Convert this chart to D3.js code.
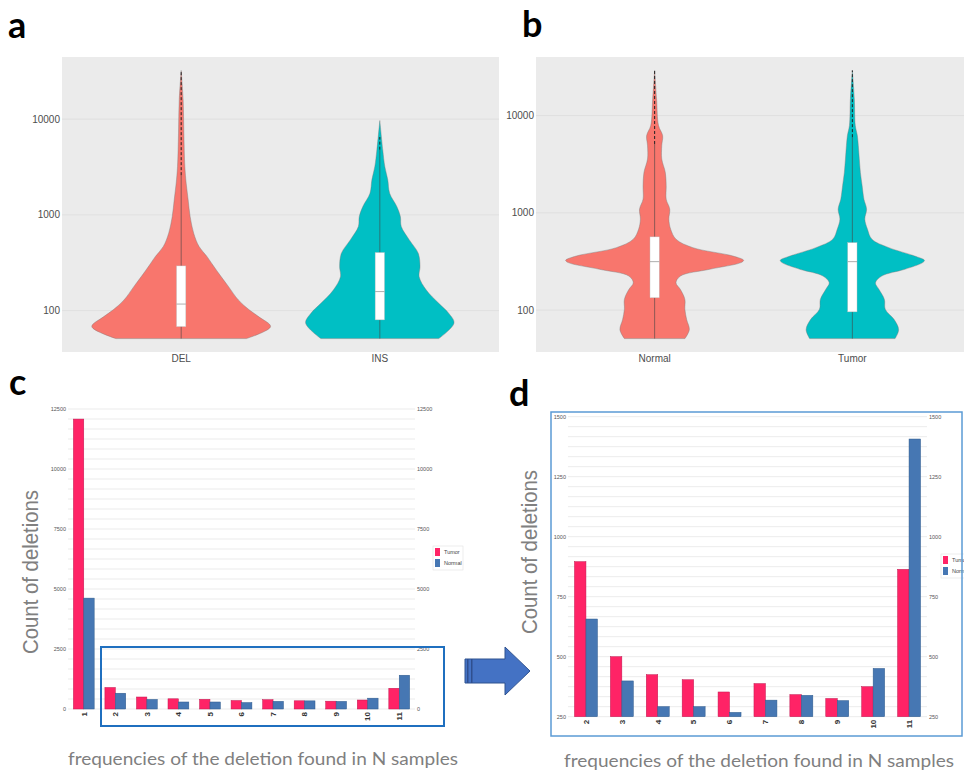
<!DOCTYPE html>
<html>
<head>
<meta charset="utf-8">
<script src="https://cdn.jsdelivr.net/npm/d3@7"></script>
<style>
  body { margin: 0; background: #fff; }
  svg { display: block; }
</style>
</head>
<body>
<script>
var W = 964, H = 775;

// ---- violin panels (a, b): length in bp vs relative density ----
var catsA = ['DEL', 'INS'];
var catsB = ['Normal', 'Tumor'];
var logTicks = [100, 1000, 10000];

var delLen  = [51, 68, 86, 102, 129, 178, 245, 313, 366, 467, 643, 962, 1435, 2143, 3200, 7145, 15900, 32300];
var delDens = [0.73, 1.0, 0.87, 0.76, 0.64, 0.53, 0.42, 0.34, 0.29, 0.2, 0.14, 0.1, 0.078, 0.056, 0.041, 0.03, 0.022, 0];
var insLen  = [51, 74, 94, 119, 164, 226, 288, 397, 548, 755, 962, 1222, 1683, 2321, 3200, 4775, 9680];
var insDens = [0.66, 0.83, 0.77, 0.66, 0.52, 0.44, 0.45, 0.43, 0.33, 0.24, 0.23, 0.19, 0.11, 0.089, 0.056, 0.033, 0];

var svLen      = [51, 63, 80, 102, 129, 163, 191, 224, 263, 308, 325, 360, 439, 536, 679, 861, 1091, 1383, 1898, 2605, 3574, 4905, 6221, 7890, 14860, 29100];
var normalDens = [0.34, 0.39, 0.36, 0.34, 0.34, 0.29, 0.24, 0.29, 0.62, 0.97, 1.0, 0.88, 0.43, 0.24, 0.18, 0.16, 0.17, 0.13, 0.13, 0.12, 0.08, 0.08, 0.09, 0.044, 0.022, 0];
var tumorDens  = [0.48, 0.52, 0.47, 0.37, 0.36, 0.3, 0.26, 0.33, 0.59, 0.79, 0.81, 0.7, 0.41, 0.22, 0.17, 0.14, 0.16, 0.13, 0.11, 0.09, 0.078, 0.067, 0.056, 0.033, 0.022, 0];

// box stats: q1, median, q3, start of outlier run, top
var delBox    = [68, 117, 293, 2600, 32300];
var insBox    = [80, 158, 404, 4800, 6500];
var normalBox = [134, 315, 566, 5100, 29100];
var tumorBox  = [96, 315, 494, 6000, 29100];

// ---- bar panels (c, d) ----
var freqCats = ['1', '2', '3', '4', '5', '6', '7', '8', '9', '10', '11'];
var tumorCounts  = [12080, 896, 500, 425, 404, 353, 388, 342, 326, 375, 864];
var normalCounts = [4620, 657, 399, 292, 292, 268, 319, 339, 317, 451, 1407];
var series = ['Tumor', 'Normal'];
var cTicks = [0, 2500, 5000, 7500, 10000, 12500];
var dTicks = [250, 500, 750, 1000, 1250, 1500];

var red = '#F8766D', teal = '#00BFC4';
var pink = '#FF2366', blue = '#4677B3';
var barColor = { Tumor: pink, Normal: blue };

var svg = d3.select('body').append('svg')
    .attr('width', W)
    .attr('height', H)
    .style('font-family', 'Liberation Sans, Arial, sans-serif');

function panelLabel(txt, x, y) {
  svg.append('text').attr('x', x).attr('y', y)
    .attr('font-family', 'Lato, Open Sans, sans-serif')
    .attr('font-weight', 'bold').attr('font-size', 36)
    .text(txt);
}

// log y scale with ggplot's 5% expansion
function logScale(mins, maxs, top, bottom) {
  var lo = Math.log10(d3.min(mins)), hi = Math.log10(d3.max(maxs));
  var pad = (hi - lo) * 0.05;
  return d3.scaleLog().domain([Math.pow(10, lo - pad), Math.pow(10, hi + pad)]).range([bottom, top]);
}

function violinPanel(x0, x1, cats, lens, dens, boxes, colors) {
  var top = 57, bottom = 352;
  var y = logScale(lens.map(l => l[0]), lens.map(l => l[l.length - 1]), top, bottom);
  var x = d3.scalePoint().domain(cats).range([x0, x1]).padding(0.6);
  var wScale = d3.scaleLinear().domain([0, 1]).range([0, x.step() * 0.45]);

  var g = svg.append('g');
  g.append('rect').attr('x', x0).attr('y', top)
    .attr('width', x1 - x0).attr('height', bottom - top)
    .attr('fill', '#EBEBEB');

  g.selectAll('.grid').data(logTicks).enter()
    .append('line')
    .attr('x1', x0).attr('x2', x1)
    .attr('y1', d => y(d)).attr('y2', d => y(d))
    .attr('stroke', '#DCDCDC').attr('stroke-width', 0.8);

  g.selectAll('.ylab').data(logTicks).enter()
    .append('text')
    .attr('x', x0 - 2).attr('y', d => y(d))
    .attr('dy', '0.35em').attr('text-anchor', 'end')
    .attr('font-size', 10).attr('fill', '#4D4D4D')
    .text(d => d);

  g.selectAll('.xlab').data(cats).enter()
    .append('text')
    .attr('x', d => x(d)).attr('y', 362)
    .attr('text-anchor', 'middle')
    .attr('font-size', 10).attr('fill', '#4D4D4D')
    .text(d => d);

  cats.forEach(function(c, i) {
    var cx = x(c);
    var pts = lens[i].map((v, j) => [v, dens[i][j]]);
    var area = d3.area()
      .y(d => y(d[0]))
      .x0(d => cx - wScale(d[1]))
      .x1(d => cx + wScale(d[1]))
      .curve(d3.curveCatmullRom);
    g.append('path').datum(pts)
      .attr('d', area)
      .attr('fill', colors[i])
      .attr('stroke', '#777').attr('stroke-width', 0.4);

    var b = boxes[i];
    var bw = x.step() * 0.047;
    // whisker / outlier line
    g.append('line')
      .attr('x1', cx).attr('x2', cx)
      .attr('y1', y(lens[i][0])).attr('y2', y(b[3]))
      .attr('stroke', '#444').attr('stroke-width', 0.6);
    g.append('line')
      .attr('x1', cx).attr('x2', cx)
      .attr('y1', y(b[3])).attr('y2', y(b[4]))
      .attr('stroke', '#222').attr('stroke-width', 1)
      .attr('stroke-dasharray', '3,2');
    g.append('rect')
      .attr('x', cx - bw / 2).attr('width', bw)
      .attr('y', y(b[2])).attr('height', y(b[0]) - y(b[2]))
      .attr('fill', '#fff').attr('stroke', '#bbb').attr('stroke-width', 0.4);
    g.append('line')
      .attr('x1', cx - bw / 2).attr('x2', cx + bw / 2)
      .attr('y1', y(b[1])).attr('y2', y(b[1]))
      .attr('stroke', '#999').attr('stroke-width', 0.8);
  });
}

violinPanel(62, 499, catsA, [delLen, insLen], [delDens, insDens], [delBox, insBox], [red, teal]);
violinPanel(536, 971, catsB, [svLen, svLen], [normalDens, tumorDens], [normalBox, tumorBox], [red, teal]);

// ---- bar panels ----
function barPanel(opt) {
  var g = svg.append('g');
  var x = d3.scaleBand().domain(opt.cats).range([opt.x0, opt.x1])
    .paddingInner(opt.pad).paddingOuter(opt.pad / 2);
  var xs = d3.scaleBand().domain(series).range([0, x.bandwidth()]);
  var y = d3.scaleLinear().domain(opt.domain).range([opt.bottom, opt.top]);
  var major = opt.ticks[1] - opt.ticks[0];
  var grid = d3.range(opt.domain[0], opt.domain[1] + 1, major / 6);

  g.selectAll('.grid').data(grid).enter()
    .append('line')
    .attr('x1', opt.x0).attr('x2', opt.x1)
    .attr('y1', d => y(d)).attr('y2', d => y(d))
    .attr('stroke', '#E6E6E6').attr('stroke-width', 0.8);

  g.selectAll('.yl').data(opt.ticks).enter()
    .append('text')
    .attr('x', opt.x0 - 2).attr('y', d => y(d))
    .attr('dy', '0.35em').attr('text-anchor', 'end')
    .attr('font-size', 5.5).attr('fill', '#555')
    .text(d => d);
  g.selectAll('.yr').data(opt.ticks).enter()
    .append('text')
    .attr('x', opt.x1 + 2).attr('y', d => y(d))
    .attr('dy', '0.35em').attr('text-anchor', 'start')
    .attr('font-size', 5.5).attr('fill', '#555')
    .text(d => d);

  var rows = opt.cats.map((c, i) => ({ cat: c, Tumor: opt.tumor[i], Normal: opt.normal[i] }));
  var grp = g.selectAll('.cat').data(rows).enter()
    .append('g')
    .attr('transform', d => 'translate(' + x(d.cat) + ',0)');
  grp.selectAll('rect')
    .data(d => series.map(s => ({ s: s, v: d[s] })))
    .enter().append('rect')
    .attr('x', d => xs(d.s))
    .attr('width', xs.bandwidth())
    .attr('y', d => y(d.v))
    .attr('height', d => y(opt.domain[0]) - y(d.v))
    .attr('fill', d => barColor[d.s])
    .attr('stroke', d => d.s === 'Tumor' ? '#C01850' : '#2E5A8C')
    .attr('stroke-width', 0.5);

  g.selectAll('.xl').data(opt.cats).enter()
    .append('text')
    .attr('transform', d => 'translate(' + (x(d) + x.bandwidth() / 2) + ',' + (opt.bottom + 3) + ') rotate(-90)')
    .attr('dy', '0.35em').attr('text-anchor', 'end')
    .attr('font-size', 8).attr('font-weight', 'bold').attr('fill', '#333')
    .text(d => d);

  // legend
  var lg = g.append('g');
  lg.append('rect').attr('x', opt.legX - 2).attr('y', opt.legY - 2)
    .attr('width', 30).attr('height', 24)
    .attr('fill', '#fff').attr('stroke', '#e2e2e2').attr('stroke-width', 0.6);
  series.forEach(function(s, i) {
    lg.append('rect').attr('x', opt.legX).attr('y', opt.legY + i * 11)
      .attr('width', 5).attr('height', 8).attr('fill', barColor[s]);
    lg.append('text').attr('x', opt.legX + 9).attr('y', opt.legY + i * 11 + 4)
      .attr('dy', '0.35em').attr('font-size', 5.5).attr('fill', '#444')
      .text(s);
  });

  // axis titles
  svg.append('text')
    .attr('transform', 'translate(' + opt.yTitleX + ',' + opt.yTitleY + ') rotate(-90)')
    .attr('text-anchor', 'middle')
    .attr('font-size', 22).attr('fill', '#808080')
    .attr('textLength', 164).attr('lengthAdjust', 'spacingAndGlyphs')
    .text('Count of deletions');
  svg.append('text')
    .attr('x', opt.xTitleX).attr('y', opt.xTitleY)
    .attr('font-family', 'Lato, Open Sans, sans-serif')
    .attr('font-size', 18).attr('fill', '#7F7F7F')
    .attr('textLength', 390).attr('lengthAdjust', 'spacingAndGlyphs')
    .text('frequencies of the deletion found in N samples');
}

barPanel({
  cats: freqCats, tumor: tumorCounts, normal: normalCounts,
  x0: 68, x1: 415, top: 409, bottom: 709, pad: 0.34,
  domain: [0, 12500], ticks: cTicks,
  legX: 435, legY: 548,
  yTitleX: 38, yTitleY: 572, xTitleX: 68, xTitleY: 765
});

barPanel({
  cats: freqCats.slice(1), tumor: tumorCounts.slice(1), normal: normalCounts.slice(1),
  x0: 568, x1: 927, top: 416.7, bottom: 716.7, pad: 0.36,
  domain: [250, 1500], ticks: dTicks,
  legX: 943, legY: 556,
  yTitleX: 537, yTitleY: 552, xTitleX: 564, xTitleY: 767
});

// zoom frames and arrow
svg.append('rect').attr('x', 101).attr('y', 647).attr('width', 343).attr('height', 79)
  .attr('fill', 'none').attr('stroke', '#1F6FBF').attr('stroke-width', 2);
svg.append('rect').attr('x', 551).attr('y', 412).attr('width', 411).attr('height', 324)
  .attr('fill', 'none').attr('stroke', '#5B9BD5').attr('stroke-width', 1.5);

var arrow = d3.path();
arrow.moveTo(465, 659); arrow.lineTo(505, 659); arrow.lineTo(505, 647);
arrow.lineTo(530, 671); arrow.lineTo(505, 695); arrow.lineTo(505, 683);
arrow.lineTo(465, 683); arrow.closePath();
svg.append('path').attr('d', arrow.toString())
  .attr('fill', '#4472C4').attr('stroke', '#2F528F').attr('stroke-width', 1);
[467, 471].forEach(function(sx) {
  svg.append('rect').attr('x', sx).attr('y', 659).attr('width', 1.5).attr('height', 24)
    .attr('fill', '#2F4F8F');
});

panelLabel('a', 8, 38);
panelLabel('b', 522, 37);
panelLabel('c', 9, 395);
panelLabel('d', 509, 406);
</script>
</body>
</html>
